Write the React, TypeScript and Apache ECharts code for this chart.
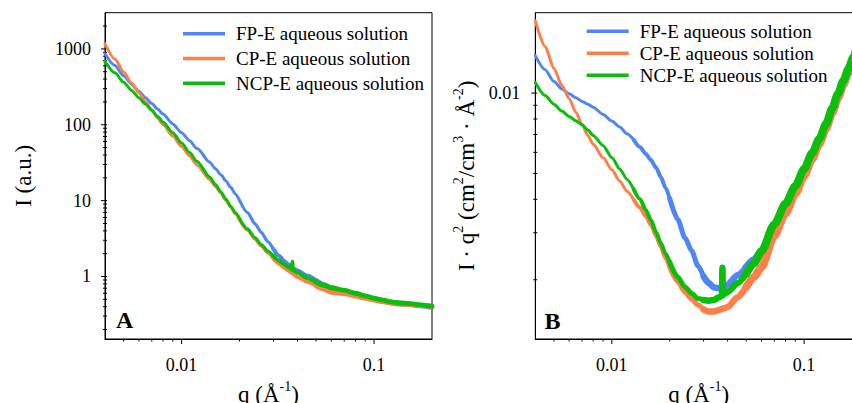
import React, { useEffect, useRef } from 'react';
import * as echarts from 'echarts';

// scattering vector q (Å^-1)
const qValues = [
  0.004, 0.0045, 0.005, 0.0055, 0.006, 0.0065, 0.007, 0.0075, 0.008, 0.009,
  0.01, 0.011, 0.012, 0.013, 0.014, 0.015, 0.016, 0.017, 0.018, 0.019,
  0.02, 0.022, 0.024, 0.026, 0.028, 0.03, 0.032, 0.034, 0.036, 0.038,
  0.04, 0.045, 0.05, 0.055, 0.06, 0.07, 0.08, 0.09, 0.1, 0.11,
  0.12, 0.13, 0.14, 0.15, 0.16, 0.17, 0.18, 0.19, 0.2,
];

// I·q² (cm²/cm³·Å⁻²); panel A shows I = (I·q²)/q²
const fpIq2 = [
  0.01381, 0.01224, 0.01104, 0.01037, 0.00995, 0.0096, 0.00931, 0.00908, 0.00886, 0.00832,
  0.00786, 0.00746, 0.00704, 0.00668, 0.00628, 0.00593, 0.0056, 0.00525, 0.00485, 0.00443,
  0.00403, 0.00337, 0.00287, 0.00257, 0.00226, 0.00206, 0.00194, 0.00187, 0.00186, 0.00186,
  0.00192, 0.00208, 0.00222, 0.00237, 0.00254, 0.00315, 0.00375, 0.00438, 0.00505, 0.00577,
  0.00653, 0.00742, 0.00849, 0.00963, 0.01077, 0.01192, 0.01316, 0.01441, 0.01571,
];
const cpIq2 = [
  0.01864, 0.01494, 0.01236, 0.01069, 0.00953, 0.00848, 0.00763, 0.00694, 0.00643, 0.00574,
  0.00516, 0.00468, 0.00429, 0.00399, 0.00373, 0.00346, 0.00321, 0.00291, 0.00265, 0.00241,
  0.00223, 0.00197, 0.0018, 0.00169, 0.00161, 0.00155, 0.00152, 0.00152, 0.00154, 0.00156,
  0.00158, 0.00172, 0.00188, 0.00205, 0.00223, 0.00292, 0.00354, 0.00419, 0.00489, 0.00565,
  0.00645, 0.00736, 0.00845, 0.00961, 0.01083, 0.01207, 0.01339, 0.01475, 0.0162,
];
const ncpIq2 = [
  0.01096, 0.0098, 0.00908, 0.00856, 0.00817, 0.00787, 0.00761, 0.00727, 0.00694, 0.00637,
  0.00574, 0.0052, 0.00475, 0.00436, 0.00401, 0.00366, 0.00334, 0.00301, 0.00274, 0.00251,
  0.00233, 0.00205, 0.00188, 0.00178, 0.0017, 0.00168, 0.00167, 0.00168, 0.00172, 0.00176,
  0.0018, 0.00194, 0.00211, 0.00231, 0.00256, 0.00323, 0.00385, 0.00449, 0.0052, 0.00596,
  0.00675, 0.00767, 0.00877, 0.00995, 0.01113, 0.01233, 0.01362, 0.01493, 0.01631,
];
// single spike visible in the NCP-E curve
const ncpSpikeQ = [0.0374, 0.0376, 0.0378];
const ncpSpikeIq2 = [0.00174, 0.00222, 0.00175];

const seriesNames = ['FP-E aqueous solution', 'CP-E aqueous solution', 'NCP-E aqueous solution'];
const seriesColors = ['#4f86f7', '#ff7f4a', '#0abf0a'];

// axis tick values
const xMajorTicks = [0.01, 0.1];
const xMinorTicks = [0.005, 0.006, 0.007, 0.008, 0.009, 0.02, 0.03, 0.04, 0.05, 0.06, 0.07, 0.08, 0.09];
const yAMajorTicks = [1, 10, 100, 1000];
const yAMinorTicks = [0.2, 0.3, 0.4, 0.5, 0.6, 0.7, 0.8, 0.9, 2, 3, 4, 5, 6, 7, 8, 9, 20, 30, 40, 50, 60, 70, 80, 90, 200, 300, 400, 500, 600, 700, 800, 900, 2000];
const yBMajorTicks = [0.01];
const yBMinorTicks = [0.002, 0.003, 0.004, 0.005, 0.006, 0.007, 0.008, 0.009];

const FONT = "'Times New Roman', 'Liberation Serif', 'DejaVu Serif', serif";

// segments with gradually increasing noise thickness
const segBounds = [0.004, 0.013, 0.02, 0.03, 0.05, 0.2];
const segWidthA = [3, 3, 3.2, 4, 4.8];
const segWidthB = [3, 4, 5, 6.5, 8];

function buildData(qs: number[], vs: number[], panel: number) {
  return qs.map((q, i) => [q, panel === 0 ? vs[i] / (q * q) : vs[i]]);
}

function mergeSpike(qs: number[], vs: number[], sq: number[], sv: number[]) {
  const pts = qs.map((q, i) => [q, vs[i]]).concat(sq.map((q, i) => [q, sv[i]]));
  pts.sort((a, b) => a[0] - b[0]);
  return { q: pts.map((p) => p[0]), v: pts.map((p) => p[1]) };
}

const fmt = (v: number) => String(parseFloat(v.toPrecision(4)));

export default function App() {
  const ref = useRef<HTMLDivElement>(null);
  useEffect(() => {
    const chart = echarts.init(ref.current!, null, { renderer: 'svg' });
    const ncp = mergeSpike(qValues, ncpIq2, ncpSpikeQ, ncpSpikeIq2);
    const curves = [
      { q: qValues, v: fpIq2 },
      { q: qValues, v: cpIq2 },
      ncp,
    ];
    const series: any[] = [];
    const nSeg = segBounds.length - 1;
    for (let p = 0; p < 2; p++) {
      curves.forEach((c, ci) => {
        const data = buildData(c.q, c.v, p);
        for (let s = 0; s < nSeg; s++) {
          const lo = segBounds[s];
          const hi = segBounds[s + 1];
          series.push({
            type: 'line',
            name: seriesNames[ci],
            xAxisIndex: p,
            yAxisIndex: p,
            data: data.filter((d) => d[0] >= lo - 1e-9 && d[0] <= hi + 1e-9),
            showSymbol: false,
            symbol: 'none',
            smooth: 0.25,
            smoothMonotone: 'x',
            color: seriesColors[ci],
            lineStyle: { color: seriesColors[ci], width: p === 0 ? segWidthA[s] : segWidthB[s], cap: 'round', join: 'round' },
            silent: true,
          });
        }
      });
    }

    const axisLabel = { fontFamily: FONT, fontSize: 18, color: '#000', formatter: fmt, showMinLabel: false, showMaxLabel: false };
    const rich = {
      n: { fontFamily: FONT, fontSize: 23, color: '#000', lineHeight: 30 },
      s: { fontFamily: FONT, fontSize: 14, color: '#000', lineHeight: 14, verticalAlign: 'top' },
    };
    const xAxisBase = {
      type: 'log',
      logBase: 10,
      min: 0.004,
      max: 0.2,
      axisLine: { show: true, onZero: false, lineStyle: { color: '#000', width: 1 } },
      axisTick: { show: false },
      splitLine: { show: false },
      axisLabel: { ...axisLabel, margin: 17 },
      name: '{n|q (Å}{s|-1}{n|)}',
      nameLocation: 'middle',
      nameGap: 40,
      nameTextStyle: { fontFamily: FONT, fontSize: 23, color: '#000', rich },
    };
    const legendBase = {
      orient: 'vertical',
      icon: 'rect',
      itemWidth: 42,
      itemHeight: 3.5,
      padding: 0,
      selectedMode: false,
      textStyle: { fontFamily: FONT, fontSize: 19, color: '#000', lineHeight: 18, padding: [0, 0, 0, 6] },
      data: seriesNames,
    };

    chart.setOption({
      animation: false,
      backgroundColor: '#fff',
      textStyle: { fontFamily: FONT },
      grid: [
        { left: 105, top: 12.7, width: 327, height: 326.3, show: true, borderColor: '#000', borderWidth: 1, containLabel: false, outerBoundsMode: 'none' },
        { left: 535.3, top: 12.7, width: 326.7, height: 326.3, show: true, borderColor: '#000', borderWidth: 1, containLabel: false, outerBoundsMode: 'none' },
      ],
      xAxis: [
        { ...xAxisBase, gridIndex: 0 },
        { ...xAxisBase, gridIndex: 1 },
      ],
      yAxis: [
        {
          type: 'log', logBase: 10, gridIndex: 0, min: 0.15, max: 3000,
          axisLine: { show: true, onZero: false, lineStyle: { color: '#000', width: 1 } },
          axisTick: { show: false }, splitLine: { show: false },
          axisLabel: { ...axisLabel, margin: 14 },
          name: 'I (a.u.)', nameLocation: 'middle', nameGap: 70,
          nameTextStyle: { fontFamily: FONT, fontSize: 23, color: '#000' },
        },
        {
          type: 'log', logBase: 10, gridIndex: 1, min: 0.0012, max: 0.02,
          axisLine: { show: true, onZero: false, lineStyle: { color: '#000', width: 1 } },
          axisTick: { show: false }, splitLine: { show: false },
          axisLabel: { ...axisLabel, margin: 15 },
          name: '{n|I · q}{s|2}{n| (cm}{s|2}{n|/cm}{s|3}{n| · Å}{s|-2}{n|)}', nameLocation: 'middle', nameGap: 54,
          nameTextStyle: { fontFamily: FONT, fontSize: 23, color: '#000', rich },
        },
      ],
      legend: [
        { ...legendBase, left: 183, top: 24.3, itemGap: 5.7 },
        { ...legendBase, left: 586.7, top: 21.7, itemGap: 3 },
      ],
      series,
    });

    const graphics: any[] = [];
    const tickLine = (x1: number, y1: number, x2: number, y2: number) => ({
      type: 'line', silent: true,
      shape: { x1, y1, x2, y2 },
      style: { stroke: '#000', lineWidth: 1 },
    });
    const yMin = [0.15, 0.0012];
    const xMin = 0.004;
    const yLists = [
      { major: yAMajorTicks, minor: yAMinorTicks },
      { major: yBMajorTicks, minor: yBMinorTicks },
    ];
    for (let p = 0; p < 2; p++) {
      const finder = { gridIndex: p };
      const origin = chart.convertToPixel(finder, [xMin, yMin[p]]) as number[];
      const ax = origin[0];
      const ay = origin[1];
      xMajorTicks.forEach((v) => {
        const pt = chart.convertToPixel(finder, [v, yMin[p]]) as number[];
        graphics.push(tickLine(pt[0], ay, pt[0], ay + 5));
      });
      xMinorTicks.forEach((v) => {
        const pt = chart.convertToPixel(finder, [v, yMin[p]]) as number[];
        graphics.push(tickLine(pt[0], ay, pt[0], ay + 2.5));
      });
      yLists[p].major.forEach((v) => {
        const pt = chart.convertToPixel(finder, [xMin, v]) as number[];
        graphics.push(tickLine(ax - 4, pt[1], ax + 2, pt[1]));
      });
      yLists[p].minor.forEach((v) => {
        const pt = chart.convertToPixel(finder, [xMin, v]) as number[];
        graphics.push(tickLine(ax - 2, pt[1], ax + 2, pt[1]));
      });
    }
    graphics.push({
      type: 'text', x: 124.7, y: 320, silent: true,
      style: { text: 'A', fill: '#000', fontFamily: FONT, fontSize: 24, fontWeight: 'bold', align: 'center', verticalAlign: 'middle' },
    });
    graphics.push({
      type: 'text', x: 552.5, y: 321, silent: true,
      style: { text: 'B', fill: '#000', fontFamily: FONT, fontSize: 24, fontWeight: 'bold', align: 'center', verticalAlign: 'middle' },
    });
    chart.setOption({ graphic: graphics });

    return () => chart.dispose();
  }, []);

  return (
    <div style={{ position: 'fixed', left: 0, top: 0, width: 852, height: 403, overflow: 'hidden', background: '#fff' }}>
      <div ref={ref} style={{ width: 870, height: 403 }} />
    </div>
  );
}
